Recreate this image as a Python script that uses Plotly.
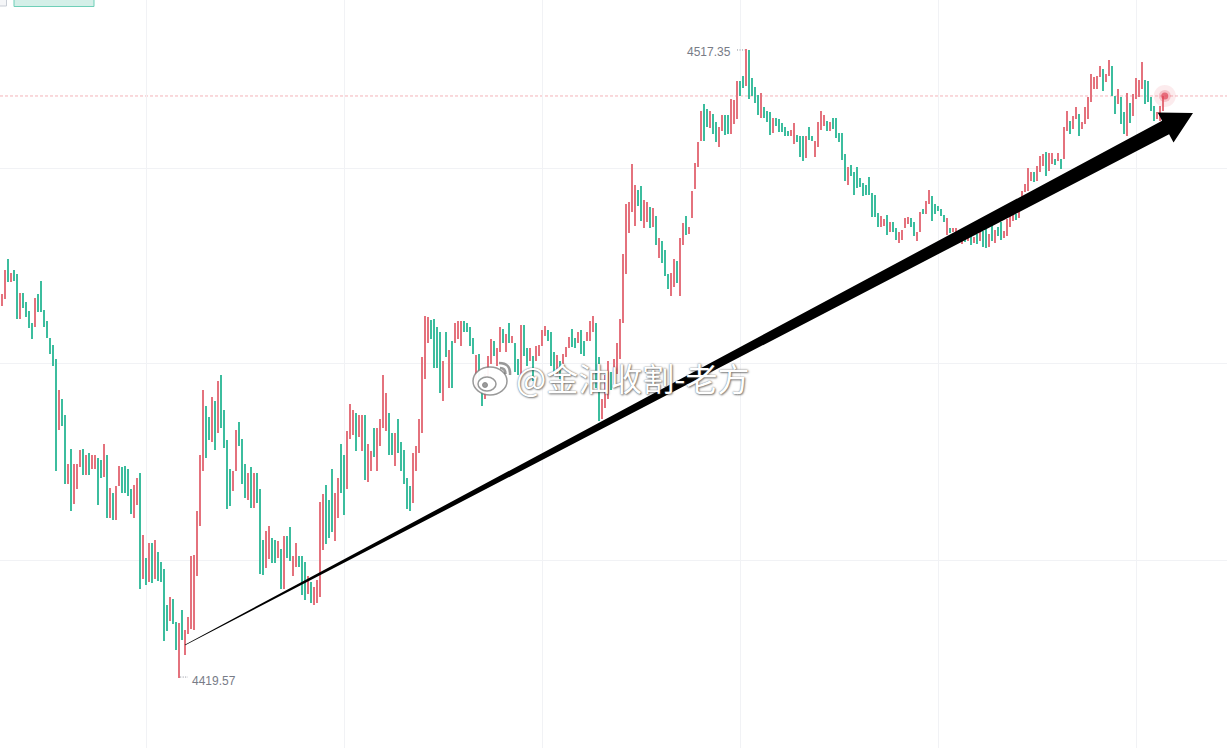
import plotly.graph_objects as go

# ---------------- data ----------------
OPEN = [
    4477.4, 4478.5, 4484.7, 4481.2, 4483.0, 4482.3, 4475.4, 4479.5, 4478.1, 4476.7,
    4474.7, 4474.2, 4479.3, 4481.3, 4476.8, 4475.0, 4472.5, 4471.4, 4469.2, 4458.1,
    4463.0, 4460.5, 4449.7, 4455.1, 4446.6, 4448.9, 4452.3, 4455.1, 4451.2, 4454.5,
    4452.0, 4452.0, 4453.7, 4453.4, 4450.8, 4454.3, 4444.4, 4448.3, 4444.1, 4449.4,
    4452.3, 4452.6, 4452.0, 4448.9, 4444.5, 4446.4, 4451.4, 4434.9, 4438.2, 4434.5,
    4440.5, 4434.9, 4439.1, 4437.6, 4436.5, 4430.9, 4428.4, 4431.8, 4428.3, 4419.57,
    4430.1, 4423.1, 4426.4, 4427.2, 4427.0, 4435.4, 4443.2, 4451.8, 4461.8, 4460.1,
    4456.3, 4462.7, 4457.7, 4466.7, 4461.3, 4456.5, 4452.0, 4448.6, 4451.8, 4459.3,
    4456.8, 4452.8, 4447.3, 4452.3, 4446.0, 4451.4, 4448.9, 4441.0, 4436.6, 4438.0,
    4441.3, 4441.0, 4438.2, 4439.6, 4433.4, 4441.6, 4443.0, 4435.4, 4436.8, 4438.5,
    4438.5, 4437.6, 4432.6, 4434.5, 4430.9, 4431.2, 4432.1, 4439.4, 4449.5, 4447.3,
    4452.0, 4440.8, 4444.5, 4456.0, 4454.2, 4448.9, 4456.8, 4457.3, 4460.8, 4457.1,
    4454.8, 4460.4, 4450.0, 4451.7, 4458.5, 4451.7, 4455.7, 4458.5, 4457.9, 4460.7,
    4457.6, 4452.6, 4459.8, 4456.2, 4455.0, 4450.6, 4449.4, 4446.7, 4451.7, 4454.5,
    4457.6, 4466.1, 4471.6, 4475.3, 4475.4, 4474.2, 4473.3, 4462.7, 4473.3, 4464.6,
    4471.9, 4471.6, 4472.3, 4471.2, 4475.0, 4474.7, 4474.2, 4472.5, 4464.6, 4470.0,
    4466.4, 4463.0, 4466.1, 4468.4, 4471.9, 4468.1, 4470.3, 4473.9, 4470.3, 4474.7,
    4471.7, 4471.7, 4469.2, 4466.6, 4474.4, 4470.9, 4468.8, 4469.7, 4468.8, 4469.7,
    4471.2, 4472.8, 4473.6, 4473.4, 4470.2, 4466.6, 4468.8, 4467.7, 4469.5, 4470.8,
    4473.9, 4472.5, 4471.6, 4473.6, 4471.9, 4472.0, 4471.9, 4473.4, 4474.7, 4469.4,
    4459.9, 4461.5, 4463.0, 4467.2, 4465.3, 4466.9, 4469.2, 4474.7, 4482.3, 4488.8,
    4492.0, 4489.9, 4495.5, 4496.1, 4489.6, 4490.5, 4492.8, 4489.7, 4491.4, 4484.9,
    4487.5, 4486.1, 4482.4, 4479.0, 4480.3, 4484.4, 4479.0, 4486.9, 4491.4, 4488.6,
    4491.1, 4495.6, 4499.0, 4503.1, 4508.8, 4508.0, 4505.1, 4507.3, 4506.0, 4502.1,
    4504.6, 4507.1, 4507.1, 4504.1, 4505.7, 4506.5, 4512.4, 4513.2, 4511.6, 4517.2,
    4512.8, 4511.4, 4510.2, 4506.6, 4508.3, 4507.7, 4507.6, 4504.3, 4506.6, 4506.5,
    4505.9, 4505.2, 4504.6, 4503.8, 4502.6, 4504.0, 4503.8, 4503.8, 4500.4, 4505.2,
    4503.8, 4500.6, 4502.1, 4504.8, 4505.4, 4506.2, 4504.6, 4506.6, 4506.6, 4504.3,
    4504.3, 4501.0, 4496.2, 4499.3, 4498.2, 4499.0, 4497.3, 4496.5, 4496.2, 4497.5,
    4495.0, 4494.7, 4491.9, 4489.7, 4489.9, 4491.6, 4488.9, 4490.5, 4489.6, 4487.2,
    4487.7, 4489.6, 4490.2, 4491.1, 4490.5, 4487.5, 4488.9, 4492.5, 4491.7, 4493.3,
    4494.5, 4493.3, 4493.0, 4492.5, 4491.6, 4488.5, 4489.6, 4488.9, 4488.3, 4489.2,
    4487.1, 4488.9, 4487.5, 4488.5, 4487.2, 4488.6, 4487.5, 4489.1, 4489.4, 4486.6,
    4490.2, 4487.2, 4489.7, 4490.5, 4487.9, 4488.3, 4489.7, 4490.6, 4491.7, 4491.1,
    4493.8, 4495.1, 4495.3, 4496.9, 4498.3, 4496.9, 4498.3, 4499.2, 4501.4, 4498.4,
    4499.5, 4500.3, 4500.0, 4500.3, 4500.3, 4504.6, 4506.2, 4504.9, 4506.5, 4507.3,
    4504.9, 4505.7, 4506.5, 4509.1, 4511.1, 4511.1, 4513.0, 4514.2, 4512.2, 4513.1,
    4514.7, 4510.0, 4508.8, 4509.9, 4507.6, 4503.8, 4509.0, 4506.9, 4509.6, 4509.9,
    4511.1, 4512.5, 4512.4, 4509.9, 4508.5, 4506.5, 4506.2, 4507.7,
]
CLOSE = [
    4479.2, 4483.0, 4481.2, 4482.6, 4481.3, 4475.4, 4479.5, 4477.1, 4475.7, 4474.0,
    4472.2, 4478.7, 4476.5, 4476.5, 4474.2, 4472.5, 4470.0, 4468.1, 4451.7, 4464.4,
    4458.8, 4449.7, 4452.9, 4445.6, 4452.9, 4452.9, 4455.0, 4451.1, 4454.3, 4451.1,
    4454.3, 4454.2, 4446.4, 4450.6, 4455.9, 4444.4, 4449.1, 4444.1, 4449.4, 4452.5,
    4448.3, 4448.3, 4447.8, 4445.0, 4449.5, 4450.6, 4433.4, 4441.8, 4434.0, 4440.5,
    4434.3, 4441.0, 4434.6, 4434.5, 4425.3, 4426.9, 4432.1, 4427.9, 4423.9, 4428.1,
    4425.5, 4427.0, 4429.0, 4438.5, 4438.7, 4445.6, 4454.3, 4464.3, 4453.7, 4456.5,
    4463.3, 4455.0, 4465.8, 4458.4, 4455.4, 4445.8, 4446.3, 4451.8, 4458.2, 4455.6,
    4449.8, 4447.5, 4451.5, 4446.0, 4451.4, 4446.7, 4435.7, 4435.6, 4442.5, 4443.2,
    4437.4, 4437.4, 4440.8, 4433.4, 4441.6, 4438.2, 4437.7, 4438.5, 4440.5, 4436.9,
    4432.4, 4431.7, 4435.4, 4431.2, 4433.7, 4434.8, 4446.9, 4448.1, 4440.4, 4441.3,
    4442.2, 4448.3, 4450.6, 4448.3, 4444.9, 4457.9, 4462.1, 4461.2, 4454.8, 4460.4,
    4460.4, 4450.3, 4456.0, 4454.8, 4454.0, 4458.5, 4459.8, 4466.7, 4463.8, 4454.3,
    4454.3, 4457.6, 4454.5, 4451.8, 4449.8, 4445.8, 4445.5, 4454.6, 4455.7, 4459.9,
    4469.5, 4475.9, 4475.7, 4472.3, 4467.7, 4467.7, 4463.8, 4468.8, 4469.5, 4470.5,
    4464.6, 4474.8, 4475.1, 4475.1, 4473.4, 4473.3, 4471.2, 4470.0, 4469.8, 4465.0,
    4461.9, 4466.9, 4469.7, 4472.2, 4469.7, 4470.8, 4474.2, 4471.7, 4473.1, 4471.6,
    4472.8, 4467.2, 4466.6, 4474.5, 4469.7, 4468.1, 4470.8, 4465.7, 4471.2, 4471.4,
    4473.6, 4474.3, 4471.9, 4468.1, 4466.6, 4469.8, 4466.1, 4470.0, 4471.1, 4472.6,
    4471.1, 4470.8, 4473.4, 4470.0, 4469.7, 4473.4, 4475.0, 4475.9, 4464.6, 4459.5,
    4463.0, 4466.6, 4468.8, 4464.3, 4469.2, 4471.6, 4475.4, 4485.5, 4493.3, 4493.6,
    4499.5, 4496.2, 4493.0, 4490.6, 4493.9, 4493.6, 4489.6, 4492.7, 4486.9, 4488.0,
    4484.1, 4482.1, 4480.1, 4482.6, 4484.7, 4480.9, 4487.9, 4490.3, 4488.5, 4489.7,
    4495.3, 4499.6, 4502.9, 4507.7, 4503.1, 4505.2, 4507.7, 4504.1, 4502.9, 4505.2,
    4507.1, 4504.0, 4504.1, 4509.6, 4509.4, 4512.4, 4510.0, 4511.3, 4517.35, 4509.6,
    4510.0, 4509.0, 4507.1, 4510.5, 4506.6, 4506.0, 4504.0, 4506.6, 4505.4, 4504.5,
    4504.5, 4503.8, 4503.8, 4504.8, 4505.9, 4502.9, 4500.6, 4500.0, 4503.8, 4503.2,
    4503.1, 4503.1, 4506.0, 4507.7, 4507.1, 4504.6, 4506.0, 4504.9, 4503.5, 4502.9,
    4500.1, 4496.9, 4499.0, 4497.6, 4494.7, 4495.8, 4495.9, 4494.5, 4494.7, 4494.7,
    4491.3, 4491.3, 4489.7, 4491.4, 4491.0, 4488.5, 4490.5, 4488.9, 4487.7, 4488.9,
    4489.2, 4491.1, 4491.3, 4489.7, 4488.3, 4488.9, 4492.0, 4491.7, 4493.7, 4495.5,
    4490.6, 4491.7, 4492.2, 4491.4, 4490.5, 4491.1, 4488.8, 4489.6, 4489.6, 4487.9,
    4489.1, 4487.4, 4489.1, 4486.9, 4488.2, 4487.1, 4488.9, 4486.6, 4486.4, 4488.6,
    4487.5, 4489.2, 4488.3, 4487.7, 4489.1, 4490.9, 4491.7, 4491.7, 4490.8, 4492.5,
    4495.3, 4496.4, 4498.9, 4498.3, 4496.7, 4499.2, 4500.7, 4501.0, 4497.6, 4501.2,
    4501.2, 4499.3, 4501.2, 4498.7, 4505.2, 4507.7, 4504.1, 4506.9, 4508.3, 4503.8,
    4506.0, 4508.3, 4509.9, 4513.5, 4513.0, 4513.1, 4514.7, 4510.8, 4513.5, 4515.6,
    4510.0, 4507.3, 4511.1, 4505.7, 4504.1, 4510.5, 4505.9, 4510.4, 4512.8, 4512.5,
    4515.3, 4508.8, 4509.1, 4507.7, 4506.2, 4507.6, 4508.5, 4510.05,
]
HIGH_LABEL = "4517.35"
LOW_LABEL = "4419.57"
HIGH_VALUE = 4517.35
LOW_VALUE = 4419.57
TIME_GRID = [48, 114, 180, 246, 312, 378]          # candle positions of vertical grid lines
PRICE_GRID = [4437.9, 4468.4, 4498.85]             # price levels of horizontal grid lines
ARROW_FROM = (61.0, 4424.7)                        # (candle index, price)
ARROW_TO = (397.0, 4507.4)
WATERMARK = "@金油收割-老方"

# ---------------- layout constants ----------------
W, H = 1227, 748
X0, X1 = -2.0 / 3.0, (W - 2) / 3.0
Y0, Y1 = 4408.69, 4524.97
UP, DOWN = "#e4727d", "#3cbd9e"

n = len(OPEN)
assert n == len(CLOSE)
idx = list(range(n))
lows = [min(o, c) for o, c in zip(OPEN, CLOSE)]
highs = [max(o, c) for o, c in zip(OPEN, CLOSE)]
heights = [max(h - l, 0.15) for h, l in zip(highs, lows)]
colors = [UP if c >= o else DOWN for o, c in zip(OPEN, CLOSE)]
last = CLOSE[-1]


def to_px(x, y):
    return (x - X0) / (X1 - X0) * W, (Y1 - y) / (Y1 - Y0) * H


def to_data(px, py):
    return X0 + px / W * (X1 - X0), Y1 - py / H * (Y1 - Y0)


def pp(px, py):
    return px / W, 1 - py / H


fig = go.Figure()
fig.add_trace(go.Bar(
    x=idx, y=heights, base=lows, width=2.0 / 3.0,
    marker=dict(color=colors, line=dict(width=0)),
    hoverinfo="skip", showlegend=False,
))

# glowing last-price dot
fig.add_trace(go.Scatter(x=[n - 1 + 0.6] * 3, y=[last] * 3, mode="markers",
                         marker=dict(size=[22, 12, 7],
                                     color=["rgba(230,80,100,0.16)", "rgba(230,70,90,0.35)", "#e1475a"],
                                     line=dict(width=0)),
                         hoverinfo="skip", showlegend=False))

shapes = []
# current price dashed line
shapes.append(dict(type="line", xref="paper", yref="y", x0=0, x1=1, y0=last, y1=last,
                   line=dict(color="rgba(236,130,140,0.6)", width=1, dash="3px,2px"), layer="below"))

# arrow wedge (computed in pixel space, expressed in data space)
sx, sy = to_px(*ARROW_FROM)
tx, ty = to_px(*ARROW_TO)
L = ((tx - sx) ** 2 + (ty - sy) ** 2) ** 0.5
dx, dy = (tx - sx) / L, (ty - sy) / L
qx, qy = -dy, dx
head_len, head_w, shaft_w, tail_w = 31, 17, 7.5, 0.4
bx, by = tx - head_len * dx, ty - head_len * dy
pts_px = [
    (sx - tail_w * qx, sy - tail_w * qy),
    (bx - shaft_w * qx, by - shaft_w * qy),
    (bx - head_w * qx, by - head_w * qy),
    (tx, ty),
    (bx + head_w * qx, by + head_w * qy),
    (bx + shaft_w * qx, by + shaft_w * qy),
    (sx + tail_w * qx, sy + tail_w * qy),
]
pts = [to_data(*p) for p in pts_px]
path = "M " + " L ".join(f"{x:.4f},{y:.4f}" for x, y in pts) + " Z"
shapes.append(dict(type="path", xref="x", yref="y", path=path,
                   fillcolor="#000000", line=dict(width=0), layer="above"))

# high / low dotted leaders
hi_i = max(idx, key=lambda i: highs[i])
lo_i = min(idx, key=lambda i: lows[i])
shapes.append(dict(type="line", xref="x", yref="y", x0=hi_i - 3.0, x1=hi_i - 0.4,
                   y0=HIGH_VALUE - 0.15, y1=HIGH_VALUE - 0.15,
                   line=dict(color="#8a8e98", width=1, dash="1px,1.5px")))
shapes.append(dict(type="line", xref="x", yref="y", x0=lo_i + 0.4, x1=lo_i + 3.0,
                   y0=LOW_VALUE + 0.15, y1=LOW_VALUE + 0.15,
                   line=dict(color="#8a8e98", width=1, dash="1px,1.5px")))

# top-left toolbar buttons (partly cut off)
a = pp(-4, -6); b = pp(6.5, 6)
shapes.append(dict(type="rect", xref="paper", yref="paper", x0=a[0], y0=b[1], x1=b[0], y1=a[1],
                   fillcolor="#f5f6f8", line=dict(color="#c8cdd5", width=1)))
a = pp(14, -6); b = pp(94, 6.5)
shapes.append(dict(type="rect", xref="paper", yref="paper", x0=a[0], y0=b[1], x1=b[0], y1=a[1],
                   fillcolor="#d4efe8", line=dict(color="#6fcfb8", width=1)))

# weibo logo (watermark)
def circ(cx, cy, rx, ry, fill, lc, lw):
    a = pp(cx - rx, cy - ry); b = pp(cx + rx, cy + ry)
    return dict(type="circle", xref="paper", yref="paper", x0=a[0], x1=b[0], y0=b[1], y1=a[1],
                fillcolor=fill, line=dict(color=lc, width=lw), layer="above")

shapes.append(circ(490, 381, 17, 14, "rgba(255,255,255,0.95)", "rgba(110,110,110,0.7)", 1.5))
shapes.append(circ(487, 384, 9, 7, "rgba(255,255,255,0.95)", "rgba(110,110,110,0.7)", 1.5))
shapes.append(circ(485, 385, 2.5, 2.5, "rgba(130,130,130,0.8)", "rgba(130,130,130,0.8)", 1))

def arc(p0, c, p1):
    (x0, y0), (xc, yc), (x1, y1) = pp(*p0), pp(*c), pp(*p1)
    return dict(type="path", xref="paper", yref="paper",
                path=f"M {x0},{y0} Q {xc},{yc} {x1},{y1}",
                line=dict(color="rgba(110,110,110,0.7)", width=2.5), layer="above")

shapes.append(arc((499, 363), (511, 363), (510, 375)))
shapes.append(arc((500, 368), (505.5, 368), (505.5, 374)))

annotations = [
    dict(x=hi_i, y=HIGH_VALUE, xref="x", yref="y", text=HIGH_LABEL, showarrow=False,
         xanchor="right", yanchor="middle", xshift=-13, yshift=-3,
         font=dict(family="Liberation Sans, Arial, sans-serif", size=12, color="#787c87")),
    dict(x=lo_i, y=LOW_VALUE, xref="x", yref="y", text=LOW_LABEL, showarrow=False,
         xanchor="left", yanchor="middle", xshift=11, yshift=-3,
         font=dict(family="Liberation Sans, Arial, sans-serif", size=12, color="#787c87")),
    dict(x=pp(514, 377)[0], y=pp(514, 377)[1], xref="paper", yref="paper", text=WATERMARK,
         showarrow=False, xanchor="left", yanchor="middle",
         font=dict(family="Noto Sans CJK SC, sans-serif", size=32, color="#ffffff",
                   shadow="0px 0px 1.5px rgba(60,60,60,0.8), 1px 1px 2px rgba(60,60,60,0.6)")),
]

fig.update_layout(
    width=W, height=H, margin=dict(l=0, r=0, t=0, b=0),
    paper_bgcolor="#ffffff", plot_bgcolor="#ffffff",
    showlegend=False, bargap=0, shapes=shapes, annotations=annotations,
    xaxis=dict(range=[X0, X1], tickvals=TIME_GRID, showticklabels=False, ticks="",
               showgrid=True, gridcolor="#f1f2f5", gridwidth=1, zeroline=False, showline=False,
               fixedrange=True),
    yaxis=dict(range=[Y0, Y1], tickvals=PRICE_GRID, showticklabels=False, ticks="",
               showgrid=True, gridcolor="#f1f2f5", gridwidth=1, zeroline=False, showline=False,
               fixedrange=True),
    hovermode=False,
)

fig.write_html("out.html", config={"displayModeBar": False},
               post_script="document.body.style.margin='0';document.body.style.overflow='hidden';")
